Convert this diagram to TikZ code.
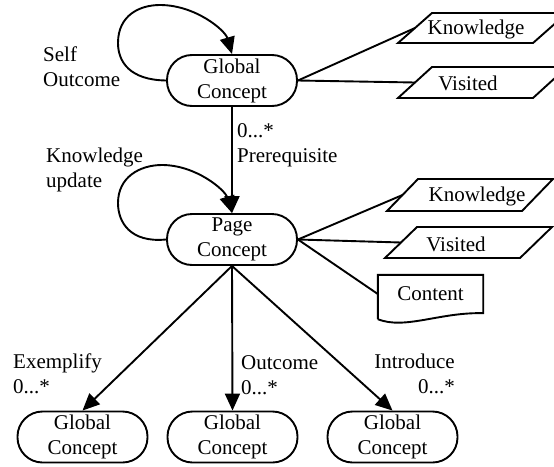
\documentclass[tikz,border=0pt]{standalone}
\usepackage{fontspec}
\setmainfont{Liberation Serif}
\usetikzlibrary{arrows.meta}
\begin{document}
\begin{tikzpicture}[x=1pt,y=-1pt,
  every node/.style={font=\fontsize{21}{25}\selectfont, inner sep=0pt},
  conc/.style={draw, line width=1.9pt, rectangle, rounded corners=25pt, minimum width=130pt, minimum height=51pt, align=center},
  lbl/.style={align=left},
  ln/.style={line width=1.9pt},
  arr/.style={line width=1.9pt, -{Triangle[length=17pt,width=15pt]}},
  shp/.style={line width=1.9pt, line join=miter}]
\useasboundingbox (0,0) rectangle (554,466);

% concept nodes
\node[conc] (gc0) at (232,80.5) {Global\\Concept};
\node[conc] (pc) at (232,239.5) {Page\\Concept};
\node[conc] (b1) at (82.5,437) {Global\\Concept};
\node[conc] (b2) at (232.5,437) {Global\\Concept};
\node[conc] (b3) at (392.5,437) {Global\\Concept};

% attribute parallelograms (text nodes + outlines)
\node (k1) at (476,29) {Knowledge};
\draw[shp] (398,43) -- (533,43) -- (567,13) -- (432,13) -- cycle;
\coordinate (k1w) at (415,28);
\node (v1) at (468,83) {Visited};
\draw[shp] (398,98) -- (533,98) -- (567,67) -- (432,67) -- cycle;
\coordinate (v1w) at (415,82.5);
\node (k2) at (477,196) {Knowledge};
\draw[shp] (387,211) -- (522,211) -- (553,179) -- (418,179) -- cycle;
\coordinate (k2w) at (402.5,195);
\node (v2) at (456,244) {Visited};
\draw[shp] (385,258) -- (520,258) -- (552,227) -- (417,227) -- cycle;
\coordinate (v2w) at (401,242.5);

% content document
\node[minimum width=105pt, minimum height=38pt] (ct) at (430.5,294) {Content};
\draw[shp] ([yshift=-6pt]ct.south west) -- (ct.north west) -- (ct.north east) -- (ct.south east)
  .. controls (440,312) and (405,330) .. ([yshift=-6pt]ct.south west);

% connectors
\draw[ln] (gc0.east) -- (k1w);
\draw[ln] (gc0.east) -- (v1w);
\draw[ln] (pc.east) -- (k2w);
\draw[ln] (pc.east) -- (v2w);
\draw[ln] (pc.east) -- (ct.west);

\draw[arr] (gc0.west) .. controls (130,80) and (118,62) .. (118,43)
  .. controls (118,15) and (140,5) .. (160,5)
  .. controls (195,5) and (225,30) .. (gc0.north);
\draw[arr] (pc.west) .. controls (130,243) and (118,222) .. (118,203)
  .. controls (118,177) and (140,165) .. (162,165)
  .. controls (196,165) and (225,190) .. (pc.north);

\draw[arr] (gc0.south) -- (pc.north);
\draw[arr] (pc.south) -- (b1.north);
\draw[arr] (pc.south) -- (b2.north);
\draw[arr] (pc.south) -- (b3.north);

% labels
\node[lbl, anchor=west] (l1) at (43,67) {Self\\Outcome};
\node[lbl, anchor=west] (l2) at (237,145) {0...*\\Prerequisite};
\node[lbl, anchor=west] (l3) at (46,170) {Knowledge\\update};
\node[lbl, anchor=west] (l4) at (13,374) {Exemplify\\0...*};
\node[lbl, anchor=west] (l5) at (241,375) {Outcome\\0...*};
\node[align=right, anchor=east] (l6) at (455,374) {Introduce\\0...*};
\end{tikzpicture}
\end{document}
